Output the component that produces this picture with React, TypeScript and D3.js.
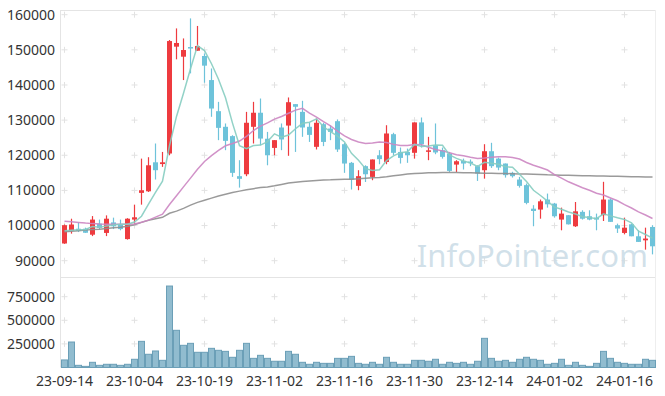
import React from 'react';
import * as d3 from 'd3';

// daily OHLC, volume and moving averages
const opens = [94900, 98450, 99100, 99100, 97400, 100550, 97900, 100900, 100350, 96150, 101700, 109300, 109750, 118000, 117500, 120500, 150900, 148050, 150800, 149750, 148250, 141400, 132550, 128100, 125450, 114050, 114600, 128100, 132100, 124700, 122100, 127900, 128450, 134550, 132350, 128100, 122400, 128850, 127600, 129700, 123150, 117850, 111300, 116900, 113850, 120000, 118100, 126000, 120950, 120950, 120700, 129350, 121100, 122850, 121450, 120500, 117350, 118400, 118200, 116900, 115750, 121150, 119050, 117650, 115000, 113100, 111500, 104800, 104550, 107400, 106250, 101700, 102950, 99800, 103900, 102650, 102250, 102950, 107400, 100100, 97900, 100350, 96950, 95800, 99600];
const highs = [100300, 101950, 100900, 99400, 102700, 101700, 102900, 102250, 101700, 102100, 105950, 119050, 119450, 123350, 120950, 152800, 156100, 153250, 158950, 156800, 149000, 144700, 135200, 129050, 125700, 118600, 132350, 135200, 136150, 126650, 124300, 129050, 136450, 134550, 135500, 129250, 130450, 129250, 128550, 130200, 123550, 118100, 115750, 117150, 118800, 121450, 128550, 126400, 122200, 121900, 129350, 130750, 125250, 129050, 122200, 120950, 118600, 119050, 118800, 117150, 123150, 123550, 119350, 117650, 115300, 113850, 111950, 105800, 107400, 109100, 106450, 105100, 103000, 106700, 104350, 104350, 103400, 112450, 107700, 100550, 102250, 100550, 98650, 99400, 100100];
const lows = [94800, 97700, 98150, 97900, 97000, 99000, 97000, 99000, 98650, 96000, 100550, 105950, 109550, 113100, 116700, 120000, 147300, 141400, 143300, 149750, 140650, 130950, 124300, 121450, 113850, 110800, 114050, 123350, 122850, 117150, 120000, 121450, 119850, 120950, 125250, 123800, 121650, 122600, 124300, 120950, 115000, 110250, 110050, 112400, 112900, 117450, 117450, 120000, 117650, 117850, 119050, 122200, 118600, 120300, 119050, 115250, 115250, 115950, 116900, 112700, 113350, 116400, 115750, 113650, 113650, 110800, 106050, 99800, 101950, 105100, 102250, 98650, 100300, 99600, 101700, 101500, 98650, 101300, 101050, 97900, 97500, 96950, 95350, 93150, 91800];
const closes = [100100, 100300, 98450, 97950, 101700, 99300, 101950, 99800, 99000, 101950, 102350, 110050, 117150, 115750, 118000, 152500, 151950, 149950, 150500, 151100, 145500, 133300, 127800, 124100, 115000, 113300, 129250, 132100, 124750, 120000, 124300, 124500, 135100, 133800, 127900, 125800, 129250, 123800, 126650, 121650, 117650, 113100, 114050, 114600, 118800, 118900, 126200, 120700, 119250, 120000, 129350, 123150, 121400, 120800, 119550, 115550, 118300, 117650, 118000, 114800, 121150, 116900, 116500, 114350, 114050, 111300, 106450, 104150, 106900, 106050, 102650, 103400, 100350, 104050, 101950, 101700, 101700, 107400, 101050, 99150, 99400, 96950, 95350, 96300, 94100];
const volumes = [80000, 270000, 23000, 12000, 55000, 23000, 34000, 34000, 23000, 34000, 87000, 277000, 140000, 175000, 76000, 863000, 394000, 235000, 256000, 161000, 161000, 203000, 182000, 171000, 108000, 182000, 256000, 97000, 129000, 97000, 66000, 66000, 171000, 140000, 55000, 34000, 55000, 44000, 44000, 97000, 97000, 118000, 44000, 34000, 55000, 34000, 108000, 55000, 34000, 34000, 76000, 76000, 66000, 87000, 34000, 55000, 44000, 55000, 34000, 66000, 309000, 97000, 66000, 76000, 55000, 87000, 108000, 87000, 76000, 34000, 44000, 87000, 23000, 55000, 23000, 12000, 44000, 171000, 97000, 55000, 44000, 34000, 34000, 87000, 76000];
const ma5 = [98500, 98700, 98800, 98900, 99700, 99550, 99850, 100150, 100350, 100400, 101000, 102650, 106100, 109450, 112650, 122700, 131050, 137650, 144600, 151200, 149800, 146050, 141650, 136350, 129150, 122700, 121900, 122750, 122900, 123900, 126100, 125150, 125750, 127550, 129100, 129400, 130350, 128100, 126700, 125450, 123800, 120550, 118600, 116200, 115650, 115900, 118500, 119850, 120750, 121000, 123100, 122500, 122650, 122950, 122850, 120100, 119100, 118350, 117800, 116850, 118000, 117700, 117450, 116750, 116600, 114600, 112550, 110050, 108550, 106950, 105250, 104650, 103850, 103300, 102500, 102300, 101950, 103350, 102750, 102200, 101750, 100800, 98400, 97450, 96400];
const ma20 = [101250, 101100, 100900, 100700, 100550, 100450, 100400, 100400, 100400, 100400, 100450, 100950, 101550, 102400, 103250, 106000, 108500, 111000, 113500, 116000, 118250, 119900, 121400, 122700, 123350, 124050, 125400, 127050, 128300, 129200, 130300, 131050, 131950, 132850, 133350, 132000, 130850, 129550, 128350, 126900, 125500, 124500, 123800, 123350, 123500, 123800, 123650, 123100, 122800, 122800, 123050, 123000, 122300, 121650, 121250, 120700, 120150, 119850, 119450, 119100, 119250, 119450, 119600, 119550, 119350, 118950, 117950, 117150, 116500, 115800, 114500, 113500, 112450, 111600, 110750, 110050, 109200, 108700, 107850, 107050, 105950, 105000, 103900, 103000, 102000];
const ma60 = [98250, 98400, 98550, 98700, 98850, 98950, 99150, 99350, 99550, 99800, 100250, 100900, 101500, 101950, 102350, 103500, 104100, 104900, 105800, 106600, 107200, 107800, 108400, 108900, 109400, 109800, 110200, 110500, 110800, 111000, 111300, 111700, 112100, 112350, 112550, 112700, 112850, 112950, 113000, 113100, 113150, 113200, 113300, 113450, 113600, 113700, 113900, 114150, 114400, 114650, 114800, 114900, 115000, 115050, 115100, 115100, 115100, 115050, 115000, 114950, 114900, 114850, 114800, 114800, 114750, 114700, 114650, 114600, 114550, 114450, 114400, 114350, 114300, 114250, 114200, 114150, 114100, 114100, 114050, 114000, 113950, 113900, 113900, 113850, 113850];

const dateTicks = ['23-09-14', '23-10-04', '23-10-19', '23-11-02', '23-11-16', '23-11-30', '23-12-14', '24-01-02', '24-01-16'];
const dateTickIdx = [0, 10, 20, 30, 40, 50, 60, 70, 80];
const priceTicks = [90000, 100000, 110000, 120000, 130000, 140000, 150000, 160000];
const volTicks = [250000, 500000, 750000];

const W = 665;
const H = 396;
const left = 61;
const right = 656;
const priceTop = 10;
const priceBottom = 277;
const volBottom = 367.5;

const UP = '#ee3b3f';
const DOWN = '#6ec3da';
const FONT = '"Noto Sans", "DejaVu Sans", sans-serif';

const App: React.FC = () => {
  const idx = closes.map((_, i) => i);
  const x = d3.scaleBand<number>().domain(idx).range([left, right]);
  const bw = x.bandwidth();
  const cx = (i: number) => (x(i) as number) + bw / 2;

  const y = d3.scaleLinear().domain([90000, 160000]).range([260.7, 14.7]);
  const yv = d3.scaleLinear().domain([0, 750000]).range([volBottom, 296.7]);

  const line = d3.line<number>().x((_, i) => cx(i)).y(d => y(d));

  const gridXs = dateTickIdx.map(cx);

  return (
    <svg width={W} height={H} style={{ position: 'absolute', left: 0, top: 0 }} fontFamily={FONT}>
      <rect width={W} height={H} fill="#fff" />
      {/* frame */}
      <line x1={left} x2={right - 1} y1={priceTop + 0.5} y2={priceTop + 0.5} stroke="#e4e4e4" />
      <line x1={left} x2={right - 1} y1={priceBottom + 0.5} y2={priceBottom + 0.5} stroke="#e4e4e4" />
      <line x1={left - 0.5} x2={left - 0.5} y1={priceTop} y2={volBottom} stroke="#e4e4e4" />
      <line x1={right - 0.5} x2={right - 0.5} y1={priceTop} y2={volBottom} stroke="#eeeeee" />

      {/* grid plus marks */}
      {gridXs.map((gx, k) =>
        priceTicks.filter(t => t <= 160000).map(t => (
          <g key={`pg${k}-${t}`} stroke="#e2e2e2">
            <line x1={gx - 3} x2={gx + 3} y1={y(t)} y2={y(t)} />
            <line x1={gx} x2={gx} y1={y(t) - 3} y2={y(t) + 3} />
          </g>
        ))
      )}
      {gridXs.map((gx, k) =>
        volTicks.map(t => (
          <g key={`vg${k}-${t}`} stroke="#e2e2e2">
            <line x1={gx - 3} x2={gx + 3} y1={yv(t)} y2={yv(t)} />
            <line x1={gx} x2={gx} y1={yv(t) - 3} y2={yv(t) + 3} />
          </g>
        ))
      )}

      {/* watermark */}
      <text x={648} y={267} textAnchor="end" fontSize={31} fill="#c9dbe6" fillOpacity={0.85}>
        InfoPointer.com
      </text>

      {/* candles */}
      {idx.map(i => {
        const o = opens[i];
        const c = closes[i];
        const col = c >= o ? UP : DOWN;
        const top = y(Math.max(o, c));
        const bot = y(Math.min(o, c));
        return (
          <g key={`c${i}`}>
            <line x1={cx(i)} x2={cx(i)} y1={y(highs[i])} y2={y(lows[i])} stroke={col} strokeWidth={1.2} />
            <rect x={cx(i) - 2.5} y={top} width={5} height={Math.max(1.5, bot - top)} fill={col} />
          </g>
        );
      })}

      {/* moving averages */}
      <path d={line(ma60) || ''} fill="none" stroke="#8f8f8f" strokeWidth={1.5} strokeOpacity={0.9} />
      <path d={line(ma20) || ''} fill="none" stroke="#cc86c2" strokeWidth={1.5} strokeOpacity={0.9} />
      <path d={line(ma5) || ''} fill="none" stroke="#86cdc1" strokeWidth={1.5} strokeOpacity={0.9} />

      {/* volume */}
      {volumes.map((v, i) => (
        <rect
          key={`v${i}`}
          x={(x(i) as number) + 0.5}
          y={yv(v)}
          width={bw - 1}
          height={volBottom - yv(v)}
          fill="#91bccf"
          stroke="#6b9fb7"
          strokeWidth={1}
        />
      ))}

      {/* axes labels */}
      {priceTicks.map(t => (
        <text key={`pt${t}`} x={55} y={y(t)} dy="0.35em" textAnchor="end" fontSize={14} fill="#333">
          {t}
        </text>
      ))}
      {volTicks.map(t => (
        <text key={`vt${t}`} x={55} y={yv(t)} dy="0.35em" textAnchor="end" fontSize={14} fill="#333">
          {t}
        </text>
      ))}
      {dateTicks.map((lab, k) => (
        <text key={`dt${k}`} x={cx(dateTickIdx[k])} y={381} dy="0.35em" textAnchor="middle" fontSize={14} fill="#333">
          {lab}
        </text>
      ))}
    </svg>
  );
};

export default App;
